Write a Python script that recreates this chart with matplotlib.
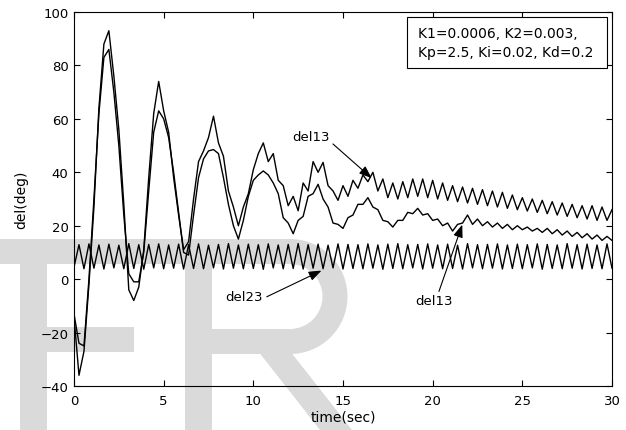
#!/usr/bin/env python3
"""
Rotor angle response (del13 / del23) with K1, K2 and PID gains.
Redraws the MATLAB style time plot into out.png.
"""

import matplotlib
matplotlib.use('Agg')
import matplotlib.pyplot as plt
import matplotlib.patches as mpatches
import matplotlib.transforms as mtransforms
import numpy as np

# sample times (sec), one sample per half cycle of the fast swing
time_s = np.linspace(0, 30, 109)

# upper del13 trace (deg)
del13_upper = [
    -14, -36, -27, -2, 27, 64, 88, 93, 76, 56,
    28, -4, -8, -3, 11, 38, 62, 74, 63, 55,
    38, 24, 11, 14, 30, 44, 48, 53, 61, 51,
    46, 33, 27, 20, 27, 32, 41, 47, 51, 44,
    47, 37, 35, 27.5, 31, 25.6, 36, 33, 44, 40,
    43.7, 35, 33, 29.5, 35, 31, 37, 34, 39, 36.5,
    40, 33, 37.5, 30.5, 36, 30, 36.5, 30.5, 37.5, 31,
    37.5, 30.5, 37, 30, 36, 29.5, 35, 29, 34.5, 28.5,
    34, 28, 33.5, 27.5, 33, 27, 32.5, 26.5, 31.5, 26,
    30.5, 25.5, 30, 25, 29.5, 24.5, 29, 24, 28.5, 23.5,
    28, 23, 27.5, 22.5, 27.5, 22, 27, 22, 26,
]

# lower del13 trace (deg)
del13_lower = [
    -13, -24, -25, 0, 30, 62, 83, 86, 70, 50,
    24, 2, -1, -1, 10, 33, 55, 63, 60, 53,
    40, 25, 10, 9, 24, 38, 45, 48, 48.5, 47,
    38, 28, 20, 15, 22, 31, 37, 39, 40.5, 39,
    36, 32, 23, 21, 17, 22, 23.5, 31, 32, 35.5,
    30, 27, 21, 20.5, 19, 23, 24, 28, 28, 30.5,
    27, 26, 22, 21.5, 19.5, 22, 22, 25, 24.5, 26.5,
    24, 24.5, 22, 22.5, 20, 21, 18, 20.5, 21, 24,
    20.5, 22.5, 20, 21.5, 19.5, 21, 19, 20.5, 18.5, 20,
    18.5, 19.5, 18, 19, 17.5, 19, 17, 18.5, 16.5, 18,
    16, 17.5, 15.5, 17, 15, 16.5, 14.5, 16, 14.5,
]

# del23 trace (deg)
del23 = [
    4.5, 12.9, 3.9, 13.2, 4.1, 12.8, 3.8, 13.1, 4.2, 12.7,
    3.9, 13.3, 4.0, 12.9, 3.7, 13.0, 4.2, 13.2, 3.9, 12.8,
    4.1, 13.1, 3.8, 12.9, 4.0, 13.2, 3.9, 12.7, 4.2, 13.0,
    3.8, 13.3, 4.1, 12.8, 3.9, 13.1, 4.0, 12.9, 3.7, 13.2,
    4.2, 12.8, 3.9, 13.0, 4.0, 13.3, 3.8, 12.9, 4.1, 13.1,
    3.9, 12.7, 4.2, 13.2, 3.8, 13.0, 4.0, 12.9, 3.9, 13.2,
    4.1, 12.8, 3.7, 13.1, 4.0, 13.3, 3.9, 12.9, 4.2, 13.0,
    3.8, 13.2, 4.1, 12.8, 3.9, 13.1, 4.0, 12.7, 3.8, 13.3,
    4.2, 12.9, 3.9, 13.0, 4.1, 13.2, 3.8, 12.8, 4.0, 13.1,
    3.9, 12.9, 4.2, 13.2, 3.7, 13.0, 4.0, 12.8, 3.9, 13.3,
    4.1, 12.9, 3.8, 13.1, 4.0, 12.8, 3.9, 13.2, 4.1,
]

gain_text = 'K1=0.0006, K2=0.003,\nKp=2.5, Ki=0.02, Kd=0.2'


def main():
    W, H = 626, 431
    fig = plt.figure(figsize=(W / 100, H / 100), dpi=100, facecolor='white')
    ax = fig.add_axes([74 / W, 1 - 387 / H, (612 - 74) / W, (387 - 13) / H])
    ax.set_facecolor('none')

    # faint "ER" watermark behind the plot (pixel coords, y pointing down)
    px = mtransforms.Affine2D().scale(1 / 100, -1 / 100).translate(0, H / 100) + fig.dpi_scale_trans
    shapes = [
        mpatches.Rectangle((0, 240), 292, 25),
        mpatches.Rectangle((20, 240), 27, 191),
        mpatches.Rectangle((20, 328), 114, 25),
        mpatches.Rectangle((185, 240), 27, 191),
        mpatches.Rectangle((185, 330), 107, 25),
        mpatches.Wedge((290, 297.5), 57.5, -90, 90, width=25),
        mpatches.Polygon([(258, 352), (290, 352), (352, 431), (320, 431)]),
    ]
    for s in shapes:
        s.set_transform(px)
        s.set_facecolor('#dadada')
        s.set_edgecolor('none')
        s.set_zorder(-5)
        fig.add_artist(s)

    # curves
    for series in (del13_upper, del13_lower, del23):
        ax.plot(time_s, series, color='black', lw=1.0)

    ax.set_xlim(0, 30)
    ax.set_ylim(-40, 100)
    ax.set_xticks(range(0, 31, 5))
    ax.set_yticks(range(-40, 101, 20))
    ax.tick_params(direction='in', top=True, right=True, length=4, width=0.8,
                   labelsize=9.5)
    ax.tick_params(axis='x', pad=6)
    ax.tick_params(axis='y', pad=4)
    for sp in ax.spines.values():
        sp.set_linewidth(0.8)

    ax.set_xlabel('time(sec)', fontsize=10)
    ax.xaxis.set_label_coords(0.5, -0.062)
    ax.set_ylabel('del(deg)', fontsize=10)
    ax.yaxis.set_label_coords(-0.085, 0.5)

    # gains box
    ax.add_patch(mpatches.Rectangle((0.619, 0.850), 0.372, 0.1366, transform=ax.transAxes,
                                    facecolor='white', edgecolor='black', lw=0.8, zorder=3))
    ax.text(0.639, 0.918, gain_text, transform=ax.transAxes, ha='left', va='center',
            fontsize=10, linespacing=1.4, zorder=4)

    # labels with arrows
    arrow = dict(arrowstyle='-|>,head_length=0.45,head_width=0.17', color='black',
                 lw=0.8, mutation_scale=17, shrinkA=0, shrinkB=0)
    ax.text(13.24, 53.4, 'del13', ha='center', va='center', fontsize=9.5)
    ax.annotate('', xy=(16.6, 37.8), xytext=(14.44, 50.6), arrowprops=arrow)
    ax.text(9.48, -6.5, 'del23', ha='center', va='center', fontsize=9.5)
    ax.annotate('', xy=(13.8, 3.2), xytext=(10.75, -6.6), arrowprops=arrow)
    ax.text(20.1, -8.0, 'del13', ha='center', va='center', fontsize=9.5)
    ax.annotate('', xy=(21.65, 20.4), xytext=(20.35, -4.6), arrowprops=arrow)

    fig.savefig('out.png', dpi=100, facecolor='white')


if __name__ == "__main__":
    main()
